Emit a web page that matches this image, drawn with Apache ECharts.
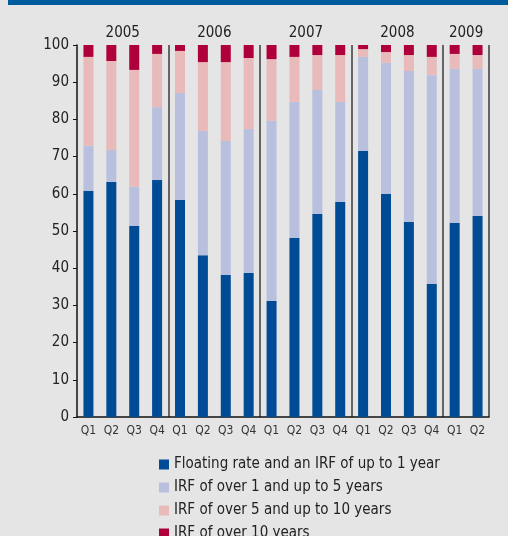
<!DOCTYPE html>
<html>
<head>
<meta charset="utf-8">
<script src="https://cdn.jsdelivr.net/npm/echarts@6/dist/echarts.min.js"></script>
<style>
  html, body { margin: 0; padding: 0; background: #e5e5e5; }
  #box { width: 508px; height: 536px; }
</style>
</head>
<body>
<div id="box"></div>
<script>
// quarters, 2005 Q1 .. 2009 Q2
var quarters = ['Q1', 'Q2', 'Q3', 'Q4', 'Q1', 'Q2', 'Q3', 'Q4', 'Q1', 'Q2', 'Q3', 'Q4', 'Q1', 'Q2', 'Q3', 'Q4', 'Q1', 'Q2'];
var years = ['2005', '2006', '2007', '2008', '2009'];
var yearCenters = [2, 6, 10, 14, 17];
var seriesNames = ['Floating rate and an IRF of up to 1 year', 'IRF of over 1 and up to 5 years', 'IRF of over 5 and up to 10 years', 'IRF of over 10 years'];
// shares in %
var upTo1 = [60.8, 63.2, 51.4, 63.7, 58.4, 43.5, 38.2, 38.7, 31.2, 48.1, 54.6, 57.8, 71.5, 60.0, 52.4, 35.8, 52.2, 54.0];
var from1to5 = [12.1, 8.6, 10.5, 19.6, 28.7, 33.4, 36.0, 38.7, 48.4, 36.6, 33.3, 26.9, 25.3, 35.2, 40.6, 56.1, 41.4, 39.6];
var from5to10 = [23.9, 23.9, 31.4, 14.3, 11.3, 18.5, 21.2, 19.1, 16.6, 12.1, 9.4, 12.6, 2.1, 2.9, 4.3, 4.9, 4.0, 3.7];
var over10 = [3.2, 4.3, 6.7, 2.4, 1.6, 4.6, 4.6, 3.5, 3.8, 3.2, 2.7, 2.7, 1.1, 1.9, 2.7, 3.2, 2.4, 2.7];
var colors = ['#004b95', '#b8c0de', '#e8baba', '#b0003c'];

var font = '"Liberation Sans Narrow", "DejaVu Sans Condensed", "Liberation Sans", sans-serif';
var myChart = echarts.init(document.getElementById('box'));

function bar(name, data, color) {
    return {
        name: name,
        type: 'bar',
        stack: 'total',
        barWidth: 10,
        data: data,
        itemStyle: { color: color },
        emphasis: { disabled: true }
    };
}

var option = {
    backgroundColor: '#e5e5e5',
    animation: false,
    graphic: [
        // blue band on top
        { type: 'rect', shape: { x: 8, y: 0, width: 500, height: 5 }, style: { fill: '#005a9e' } }
    ],
    grid: { left: 77, right: 19, top: 45, bottom: 119 },
    legend: {
        orient: 'vertical',
        left: 154,
        top: 452,
        height: 140,
        itemWidth: 10,
        itemHeight: 10,
        itemGap: 8,
        icon: 'rect',
        textStyle: { fontFamily: font, fontSize: 15, color: '#222' },
        data: seriesNames
    },
    xAxis: [{
        type: 'category',
        data: quarters,
        axisLine: { lineStyle: { color: '#111', width: 1.5 } },
        axisTick: { length: 5, lineStyle: { color: '#111', width: 1.5 } },
        axisLabel: { fontFamily: font, fontSize: 12, color: '#333', margin: 8 },
        splitLine: {
            show: true,
            interval: function (i) { return i > 0 && i % 4 === 0; },
            lineStyle: { color: '#3a3a3a', width: 1.5 }
        }
    }, {
        // year labels on top
        type: 'value',
        position: 'top',
        min: 0,
        max: 18,
        interval: 1,
        axisLine: { show: false },
        axisTick: { show: false },
        splitLine: { show: false },
        axisLabel: {
            fontFamily: font, fontSize: 15, color: '#222', margin: 4,
            formatter: function (v) {
                var k = yearCenters.indexOf(v);
                return k >= 0 ? years[k] : '';
            }
        }
    }],
    yAxis: {
        type: 'value',
        min: 0,
        max: 100,
        interval: 10,
        axisLine: { show: true, lineStyle: { color: '#111', width: 1.5 } },
        axisTick: { show: true, length: 4, lineStyle: { color: '#111' } },
        axisLabel: { fontFamily: font, fontSize: 15, color: '#222', margin: 8 },
        splitLine: { show: false }
    },
    series: [
        bar(seriesNames[0], upTo1, colors[0]),
        bar(seriesNames[1], from1to5, colors[1]),
        bar(seriesNames[2], from5to10, colors[2]),
        bar(seriesNames[3], over10, colors[3]),
        // keeps the top year axis in use
        { type: 'line', xAxisIndex: 1, data: [], silent: true }
    ]
};
myChart.setOption(option);
</script>
</body>
</html>
